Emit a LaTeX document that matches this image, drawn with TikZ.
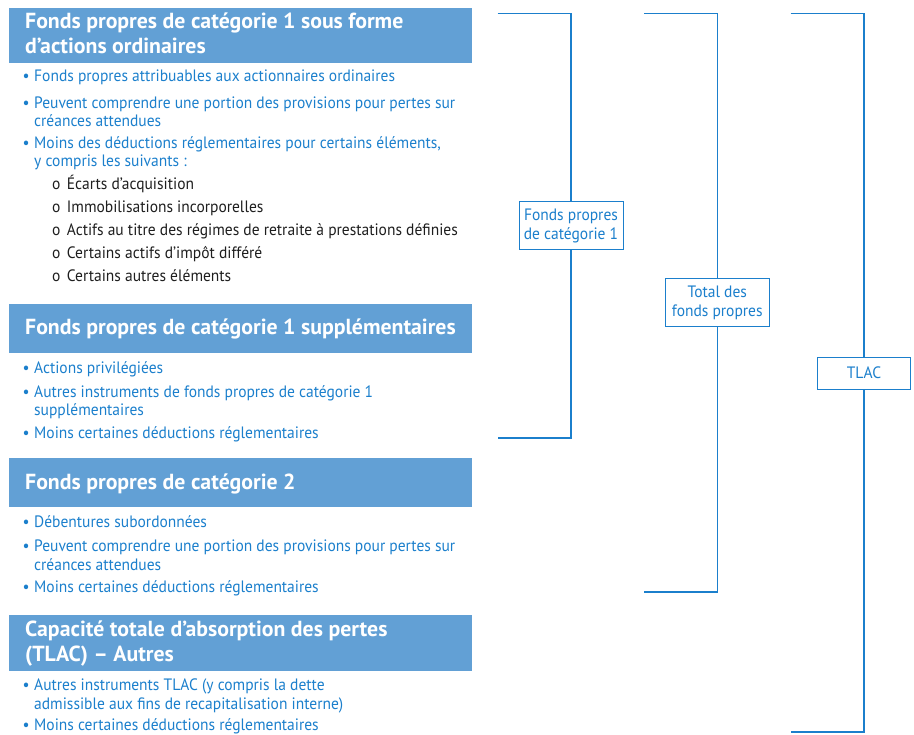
\documentclass[tikz,border=0pt]{standalone}
\usepackage{fontspec}
\setmainfont{PT Sans}[FakeStretch=0.94]
\newfontfamily\headfont{PT Sans}
\usetikzlibrary{positioning}
\definecolor{capblue}{RGB}{27,127,204}
\definecolor{headblue}{RGB}{98,160,213}
\definecolor{subgray}{RGB}{30,30,30}

\begin{document}
\begin{tikzpicture}[x=1pt, y=-1pt,
  head/.style={font=\headfont\fontsize{21.8}{25}\selectfont\bfseries, text=white, anchor=base west, inner sep=0pt, align=left},
  item/.style={font=\fontsize{16.5}{18.5}\selectfont, text=capblue, anchor=base west, inner sep=0pt, align=left},
  subitem/.style={font=\fontsize{16.5}{18.5}\selectfont, text=subgray, anchor=base west, inner sep=0pt},
  total/.style={draw=capblue, line width=1pt, fill=white, text=capblue, align=center,
    font=\fontsize{16.5}{19}\selectfont, inner sep=0pt, minimum width=104pt, minimum height=48pt},
  brk/.style={capblue, line width=1.1pt}]
  \newcommand{\bul}{\llap{\textbullet\hskip 4.5pt}}
  \newcommand{\subbul}{\llap{o\hskip 6.5pt}}

  \useasboundingbox (0,0) rectangle (914,735);

  % --- CET1 ---
  % (multi-line nodes sit on the baseline of their last line)
  \fill[headblue] (9,8) rectangle (472,63);
  \node[head] (h1) at (25,54) {Fonds propres de catégorie 1 sous forme\\d’actions ordinaires};
  \node[item] (a1) at (34,82) {\bul Fonds propres attribuables aux actionnaires ordinaires};
  \node[item] (a2) at (34,126.7) {\bul Peuvent comprendre une portion des provisions pour pertes sur\\créances attendues};
  \node[item] (a3) at (34,167) {\bul Moins des déductions réglementaires pour certains éléments,\\ y compris les suivants :};
  \node[subitem] (s1) at (66.7,190) {\subbul Écarts d’acquisition};
  \node[subitem] (s2) at (66.7,212.7) {\subbul Immobilisations incorporelles};
  \node[subitem] (s3) at (66.7,235.7) {\subbul Actifs au titre des régimes de retraite à prestations définies};
  \node[subitem] (s4) at (66.7,258.7) {\subbul Certains actifs d’impôt différé};
  \node[subitem] (s5) at (66.7,281.7) {\subbul Certains autres éléments};

  % --- AT1 ---
  \fill[headblue] (9,304) rectangle (472,353);
  \node[head] (h2) at (25,335) {Fonds propres de catégorie 1 supplémentaires};
  \node[item] (b1) at (34,373.3) {\bul Actions privilégiées};
  \node[item] (b2) at (34,416) {\bul Autres instruments de fonds propres de catégorie 1\\supplémentaires};
  \node[item] (b3) at (34,438.3) {\bul Moins certaines déductions réglementaires};

  % --- T2 ---
  \fill[headblue] (9,458) rectangle (472,507.3);
  \node[head] (h3) at (25,489.3) {Fonds propres de catégorie 2};
  \node[item] (c1) at (34,527.3) {\bul Débentures subordonnées};
  \node[item] (c2) at (34,570) {\bul Peuvent comprendre une portion des provisions pour pertes sur\\créances attendues};
  \node[item] (c3) at (34,592.3) {\bul Moins certaines déductions réglementaires};

  % --- TLAC other ---
  \fill[headblue] (9,615) rectangle (472,670.7);
  \node[head] (h4) at (25,661.7) {Capacité totale d’absorption des pertes\\(TLAC) – Autres};
  \node[item] (d1) at (34,709.3) {\bul Autres instruments TLAC (y compris la dette\\admissible aux fins de recapitalisation interne)};
  \node[item] (d2) at (34,730) {\bul Moins certaines déductions réglementaires};

  % --- brackets ---
  \node[total] (tier1) at (571,225.8) {Fonds propres\\de catégorie 1};
  \node[total] (totcap) at (717.3,302.8) {Total des\\fonds propres};
  \node[total, minimum width=93.4pt, minimum height=31.7pt] (tlac) at (864,373.2) {TLAC};

  \coordinate (t1) at (497.7,13.3);
  \coordinate (e1) at (497.7,438);
  \coordinate (t2) at (644.3,13.3);
  \coordinate (e2) at (644.3,592);
  \coordinate (t3) at (790.7,13.3);
  \coordinate (e3) at (790.7,732);

  \draw[brk] (t1) -| (tier1.north);
  \draw[brk] (tier1.south) |- (e1);
  \draw[brk] (t2) -| (totcap.north);
  \draw[brk] (totcap.south) |- (e2);
  \draw[brk] (t3) -| (tlac.north);
  \draw[brk] (tlac.south) |- (e3);
\end{tikzpicture}
\end{document}
